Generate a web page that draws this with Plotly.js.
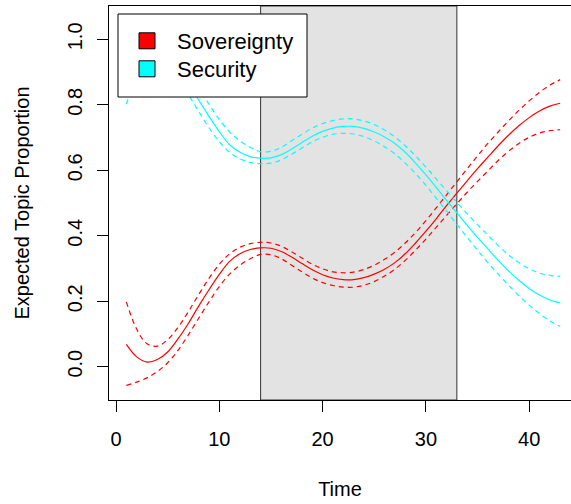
<!DOCTYPE html>
<html>
<head>
<meta charset="utf-8">
<script src="https://cdn.plot.ly/plotly-3.0.1.min.js"></script>
<style>html,body{margin:0;padding:0;background:#fff;}#chart{width:571px;height:504px;}</style>
</head>
<body>
<div id="chart"></div>
<script>
// ---- data ----
const time = [1,2,3,4,5,6,7,8,9,10,11,12,13,14,15,16,17,18,19,20,21,22,23,24,25,26,27,28,29,30,31,32,33,34,35,36,37,38,39,40,41,42,43];

const sovMean  = [0.068,0.030,0.014,0.022,0.045,0.085,0.132,0.185,0.235,0.282,0.322,0.345,0.358,0.363,0.362,0.352,0.335,0.315,0.296,0.281,0.271,0.266,0.266,0.272,0.283,0.298,0.318,0.345,0.378,0.414,0.452,0.492,0.530,0.568,0.605,0.640,0.675,0.707,0.736,0.761,0.781,0.796,0.805];
const sovUpper = [0.198,0.115,0.070,0.063,0.083,0.120,0.168,0.220,0.270,0.313,0.345,0.365,0.376,0.380,0.378,0.368,0.351,0.332,0.313,0.299,0.290,0.287,0.289,0.297,0.310,0.328,0.350,0.378,0.410,0.446,0.485,0.525,0.565,0.605,0.644,0.682,0.717,0.751,0.783,0.812,0.838,0.860,0.877];
const sovLower = [-0.057,-0.047,-0.034,-0.015,0.012,0.050,0.097,0.148,0.198,0.245,0.283,0.310,0.330,0.343,0.342,0.330,0.310,0.290,0.271,0.257,0.248,0.243,0.243,0.249,0.260,0.277,0.298,0.325,0.356,0.390,0.426,0.462,0.498,0.533,0.566,0.598,0.630,0.658,0.682,0.701,0.714,0.721,0.724];

const secMean  = [0.932,0.970,0.986,0.978,0.955,0.915,0.868,0.815,0.765,0.718,0.678,0.655,0.642,0.637,0.638,0.648,0.665,0.685,0.704,0.719,0.729,0.734,0.734,0.728,0.717,0.702,0.682,0.655,0.622,0.586,0.548,0.508,0.470,0.432,0.395,0.360,0.325,0.293,0.264,0.239,0.219,0.204,0.195];
const secUpper = [1.057,1.047,1.034,1.015,0.988,0.950,0.903,0.852,0.802,0.755,0.717,0.690,0.670,0.657,0.658,0.670,0.690,0.710,0.729,0.743,0.752,0.757,0.757,0.751,0.740,0.723,0.702,0.675,0.644,0.610,0.574,0.538,0.502,0.467,0.434,0.402,0.370,0.342,0.318,0.299,0.286,0.279,0.276];
const secLower = [0.802,0.885,0.930,0.937,0.917,0.880,0.832,0.780,0.730,0.687,0.655,0.635,0.624,0.620,0.622,0.632,0.649,0.668,0.687,0.701,0.710,0.713,0.711,0.703,0.690,0.672,0.650,0.622,0.590,0.554,0.515,0.475,0.435,0.395,0.356,0.318,0.283,0.249,0.217,0.188,0.162,0.140,0.123];

const topicNames = ['Sovereignty', 'Security'];
const topicColors = ['#ff0000', '#00ffff'];
const periodStart = 14;
const periodEnd = 33;
const xTicks = [0, 10, 20, 30, 40];
const yTicks = [0, 0.2, 0.4, 0.6, 0.8, 1.0];
const yTickText = ['0.0', '0.2', '0.4', '0.6', '0.8', '1.0'];

// ---- traces ----
function line(y, color, dashed) {
  return {
    x: time, y: y, type: 'scatter', mode: 'lines', showlegend: false, hoverinfo: 'skip',
    line: {color: color, width: 1.2, shape: 'spline', smoothing: 1, dash: dashed ? '5px,4px' : 'solid'}
  };
}
const traces = [
  line(sovMean, topicColors[0], false),
  line(sovUpper, topicColors[0], true),
  line(sovLower, topicColors[0], true),
  line(secMean, topicColors[1], false),
  line(secUpper, topicColors[1], true),
  line(secLower, topicColors[1], true)
];
topicNames.forEach((name, i) => {
  traces.push({
    x: [null], y: [null], type: 'scatter', mode: 'markers', name: name, showlegend: true,
    legend: i === 0 ? 'legend' : 'legend2',
    marker: {symbol: 'square', size: 16, color: topicColors[i], line: {color: '#000', width: 1}}
  });
});

const FONT = 'Liberation Sans, Arial, Helvetica, sans-serif';
const W = 571, H = 504, L = 109, T = 6, B = 104, R = 0;
const pw = W - L - R, ph = H - T - B;
function px2paperX(p) { return (p - L) / pw; }
function px2paperY(p) { return (H - B - p) / ph; }

function legendAt(topPx) {
  return {
    x: px2paperX(117), y: px2paperY(topPx), xanchor: 'left', yanchor: 'top',
    bgcolor: 'rgba(0,0,0,0)', borderwidth: 0, itemwidth: 50,
    font: {family: FONT, size: 22, color: '#000'}
  };
}

const layout = {
  width: W, height: H,
  margin: {l: L, r: R, t: T, b: B, pad: 0},
  paper_bgcolor: '#ffffff', plot_bgcolor: '#ffffff',
  font: {family: FONT, color: '#000', size: 20},
  showlegend: true,
  legend: legendAt(20),
  legend2: legendAt(48),
  xaxis: {
    range: [-0.68, 44.05], showgrid: false, zeroline: false,
    showline: true, linecolor: '#000', linewidth: 1, mirror: true,
    ticks: 'outside', ticklen: 11, tickwidth: 1, tickcolor: '#000',
    tickvals: xTicks, ticktext: xTicks.map(String), ticklabelstandoff: 10,
    tickfont: {family: FONT, size: 20, color: '#000'},
    title: {text: 'Time', font: {family: FONT, size: 20, color: '#000'}, standoff: 32}
  },
  yaxis: {
    range: [-0.1017, 1.102], showgrid: false, zeroline: false,
    showline: true, linecolor: '#000', linewidth: 1, mirror: false,
    ticks: 'outside', ticklen: 11, tickwidth: 1, tickcolor: '#000',
    tickvals: yTicks, ticktext: yTickText, tickangle: -90, ticklabelstandoff: 7,
    tickfont: {family: FONT, size: 20, color: '#000'},
    title: {text: 'Expected Topic Proportion', font: {family: FONT, size: 20, color: '#000'}, standoff: 29}
  },
  shapes: [
    {type: 'rect', xref: 'x', yref: 'paper', x0: periodStart, x1: periodEnd, y0: 0, y1: 1,
     fillcolor: '#e3e3e3', line: {color: '#333', width: 1}, layer: 'below'},
    {type: 'rect', xref: 'paper', yref: 'paper',
     x0: px2paperX(118), x1: px2paperX(307), y0: px2paperY(97), y1: px2paperY(14),
     fillcolor: '#ffffff', line: {color: '#000', width: 1}, layer: 'above'}
  ]
};

Plotly.newPlot('chart', traces, layout, {displayModeBar: false, staticPlot: true});
</script>
</body>
</html>
